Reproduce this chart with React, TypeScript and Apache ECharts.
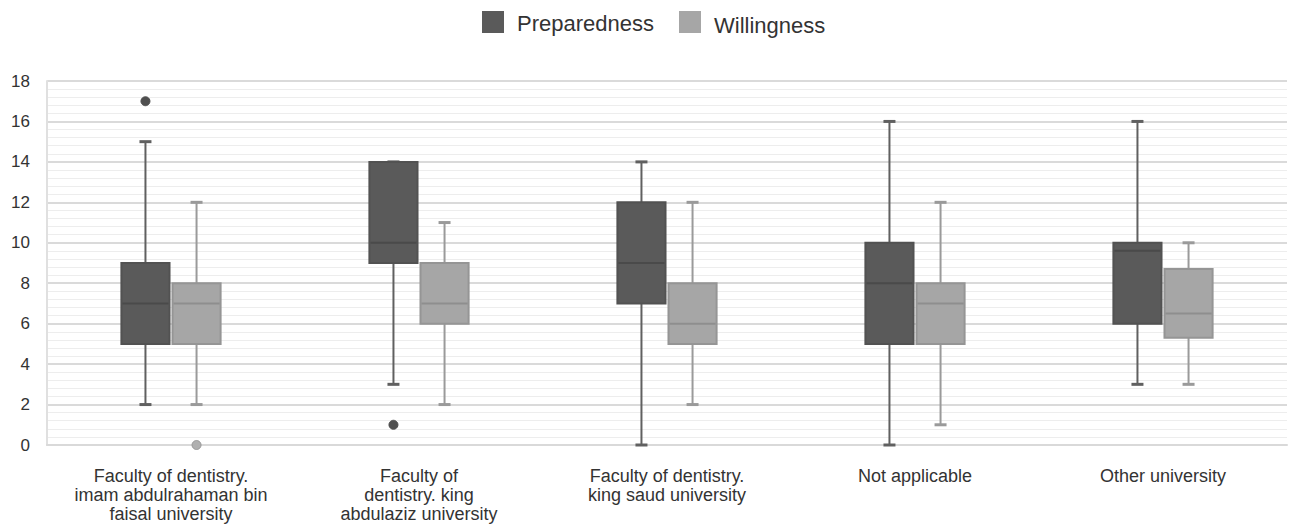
import React, { useEffect, useRef } from "react";
import * as echarts from "echarts";

const categories = [
  "Faculty of dentistry.\nimam abdulrahaman bin\nfaisal university",
  "Faculty of\ndentistry. king\nabdulaziz university",
  "Faculty of dentistry.\nking saud university",
  "Not applicable",
  "Other university",
];

// [min, Q1, median, Q3, max]
const preparedness = [
  [2, 5, 7, 9, 15],
  [3, 9, 10, 14, 14],
  [0, 7, 9, 12, 14],
  [0, 5, 8, 10, 16],
  [3, 6, 9.6, 10, 16],
];
const willingness = [
  [2, 5, 7, 8, 12],
  [2, 6, 7, 9, 11],
  [2, 5, 6, 8, 12],
  [1, 5, 7, 8, 12],
  [3, 5.3, 6.5, 8.7, 10],
];
// [category index, value]
const preparednessOutliers = [
  [0, 17],
  [1, 1],
];
const willingnessOutliers = [[0, 0]];

const yTicks = { min: 0, max: 18, interval: 2 };

function boxRenderer(offset: number, fill: string, stroke: string, line: string, median: string) {
  return (params: any, api: any) => {
    const x = api.value(0);
    const band = api.size([1, 0])[0];
    const c = api.coord([x, api.value(3)]);
    const cx = c[0] + offset * band;
    const w = 0.194 * band;
    const y = (v: number) => api.coord([x, v])[1];
    const yMin = y(api.value(1));
    const yQ1 = y(api.value(2));
    const yMed = y(api.value(3));
    const yQ3 = y(api.value(4));
    const yMax = y(api.value(5));
    const cap = 6;
    const ls = { stroke: line, lineWidth: 2 };
    return {
      type: "group",
      children: [
        { type: "line", shape: { x1: cx, y1: yQ1, x2: cx, y2: yMin }, style: ls },
        { type: "line", shape: { x1: cx, y1: yQ3, x2: cx, y2: yMax }, style: ls },
        { type: "line", shape: { x1: cx - cap, y1: yMin, x2: cx + cap, y2: yMin }, style: { stroke: line, lineWidth: 3 } },
        { type: "line", shape: { x1: cx - cap, y1: yMax, x2: cx + cap, y2: yMax }, style: { stroke: line, lineWidth: 3 } },
        {
          type: "rect",
          shape: { x: cx - w / 2, y: yQ3, width: w, height: yQ1 - yQ3 },
          style: { fill, stroke, lineWidth: 2 },
        },
        { type: "line", shape: { x1: cx - w / 2 + 1, y1: yMed, x2: cx + w / 2 - 1, y2: yMed }, style: { stroke: median, lineWidth: 2 } },
      ],
    };
  };
}

function outlierRenderer(offset: number, fill: string, stroke: string) {
  return (params: any, api: any) => {
    const x = api.value(0);
    const band = api.size([1, 0])[0];
    const c = api.coord([x, api.value(1)]);
    return {
      type: "circle",
      shape: { cx: c[0] + offset * band, cy: c[1], r: 4.5 },
      style: { fill, stroke, lineWidth: 1 },
    };
  };
}

export default function App() {
  const ref = useRef<HTMLDivElement>(null);
  useEffect(() => {
    if (!ref.current) return;
    const chart = echarts.init(ref.current, undefined, { renderer: "svg" });
    const prepColor = "#5a5a5a";
    const willColor = "#a6a6a6";
    chart.setOption({
      animation: false,
      textStyle: { fontFamily: "Liberation Sans, Arial, sans-serif" },
      legend: {
        top: 11,
        left: 482,
        padding: 0,
        icon: "rect",
        itemWidth: 22,
        itemHeight: 22,
        itemGap: 25,
        formatter: (name: string) => (name === "Willingness" ? `{w|${name}}` : `{p|${name}}`),
        textStyle: {
          fontSize: 22,
          color: "#333",
          rich: {
            p: { fontSize: 22, color: "#333", padding: [3, 0, 0, 8] },
            w: { fontSize: 22, color: "#333", padding: [7, 0, 0, 8] },
          },
        },
        data: ["Preparedness", "Willingness"],
      },
      grid: { left: 47, right: 3, top: 81, bottom: 82 },
      xAxis: {
        type: "category",
        data: categories,
        axisLine: { show: true, lineStyle: { color: "#d9d9d9", width: 2 } },
        axisTick: { show: false },
        axisLabel: { fontSize: 18, color: "#333", lineHeight: 19, margin: 21, interval: 0 },
        splitLine: { show: false },
      },
      yAxis: {
        type: "value",
        min: yTicks.min,
        max: yTicks.max,
        interval: yTicks.interval,
        axisLine: { show: true, lineStyle: { color: "#e0e0e0", width: 2 } },
        axisTick: { show: false },
        axisLabel: { fontSize: 17, color: "#333", margin: 17 },
        splitLine: { show: true, lineStyle: { color: "#dadada", width: 2 } },
        minorTick: { show: false, splitNumber: 5 },
        minorSplitLine: { show: true, lineStyle: { color: "#ededed", width: 1 } },
      },
      series: [
        {
          name: "Preparedness",
          type: "custom",
          itemStyle: { color: prepColor },
          renderItem: boxRenderer(-0.103, prepColor, "#525252", "#606060", "#4a4a4a"),
          encode: { x: 0, y: [1, 2, 3, 4, 5] },
          data: preparedness.map((d, i) => [i, ...d]),
          z: 3,
        },
        {
          name: "Willingness",
          type: "custom",
          itemStyle: { color: willColor },
          renderItem: boxRenderer(0.103, willColor, "#959595", "#9a9a9a", "#8e8e8e"),
          encode: { x: 0, y: [1, 2, 3, 4, 5] },
          data: willingness.map((d, i) => [i, ...d]),
          z: 3,
        },
        {
          name: "Preparedness",
          type: "custom",
          itemStyle: { color: prepColor },
          renderItem: outlierRenderer(-0.103, "#4f4f4f", "#4f4f4f"),
          encode: { x: 0, y: 1 },
          data: preparednessOutliers,
          z: 4,
        },
        {
          name: "Willingness",
          type: "custom",
          itemStyle: { color: willColor },
          renderItem: outlierRenderer(0.103, "#b0b0b0", "#999999"),
          encode: { x: 0, y: 1 },
          data: willingnessOutliers,
          z: 4,
        },
      ],
    });
    return () => chart.dispose();
  }, []);
  return (
    <div
      ref={ref}
      style={{ position: "absolute", left: 0, top: 0, width: 1290, height: 527, overflow: "hidden" }}
    />
  );
}
